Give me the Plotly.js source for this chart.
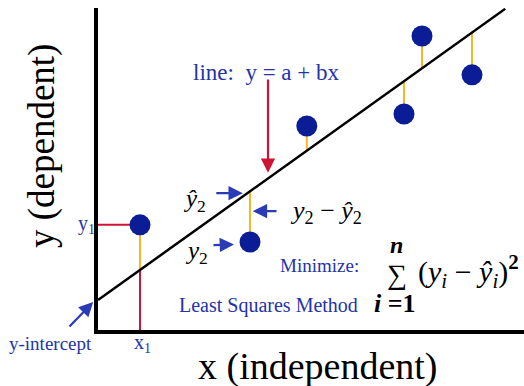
<!DOCTYPE html>
<html>
<head>
<meta charset="utf-8">
<script src="https://cdn.plot.ly/plotly-3.0.1.min.js"></script>
<style>
  html, body { margin: 0; padding: 0; background: #fff; }
  #chart { width: 524px; height: 386px; }
</style>
</head>
<body>
<div id="chart"></div>
<script>
// ---- data (axis units, origin at the axes corner) ----
const pointX = [1.05, 3.8, 5.22, 7.65, 8.1, 9.35];
const pointY = [2.63, 2.2, 5.1, 5.4, 7.35, 6.38];
const intercept = 0.75;   // a
const slope = 0.715;      // b
const lineX = [0, 10.18];

const X_MAX = 10.65, Y_MAX = 8.05;
const PX_PER_UNIT = 40;   // plot area is 426 x 322 px

const BLUE_TEXT = '#2433a8';
const BLUE_DOT = '#0b1d96';
const BLUE_ARROW = '#2a3bb5';
const RED = '#cc1436';
const GOLD = '#f5b72a';
const SERIF = 'Liberation Serif, Times New Roman, serif';

function fitted(x) { return intercept + slope * x; }

// residual segments (point -> fitted line)
const resX = [], resY = [];
pointX.forEach((x, i) => {
    resX.push(x, x, null);
    resY.push(pointY[i], fitted(x), null);
});

// guide lines for the first point (x1, y1)
const x1 = pointX[0], y1 = pointY[0];

const traces = [
    {
        x: [0, x1, null, x1, x1],
        y: [y1, y1, null, fitted(x1), 0],
        mode: 'lines',
        line: { color: RED, width: 2 },
        hoverinfo: 'skip'
    },
    {
        x: resX,
        y: resY,
        mode: 'lines',
        line: { color: GOLD, width: 2 },
        hoverinfo: 'skip'
    },
    {
        x: lineX,
        y: lineX.map(fitted),
        mode: 'lines',
        line: { color: '#000', width: 2.5 },
        hoverinfo: 'skip'
    },
    {
        x: pointX,
        y: pointY,
        mode: 'markers',
        marker: { color: BLUE_DOT, size: 21 },
        hoverinfo: 'skip'
    }
];

// annotations use paper refs so the ones outside the axes still show
function label(x, y, text, size, color, extra) {
    return Object.assign({
        x: x / X_MAX, y: y / Y_MAX, xref: 'paper', yref: 'paper',
        xanchor: 'center', yanchor: 'middle',
        text: text, showarrow: false,
        font: { family: SERIF, size: size, color: color }
    }, extra || {});
}

function arrow(tailX, tailY, tipX, tipY, color) {
    return {
        x: tipX / X_MAX, y: tipY / Y_MAX, xref: 'paper', yref: 'paper',
        ax: (tailX - tipX) * PX_PER_UNIT, ay: -(tailY - tipY) * PX_PER_UNIT,
        text: '', showarrow: true,
        arrowhead: 2, arrowsize: 1.3, arrowwidth: 2.2,
        arrowcolor: color, standoff: 0, startstandoff: 0
    };
}

const annotations = [
    // axis titles
    label(5.5, -0.92, 'x (independent)', 38, '#000'),
    label(-1.4, 4.6, 'y (dependent)', 37, '#000', { textangle: -90 }),

    // line equation + pointer
    label(4.2, 6.45, 'line:  y = a + bx', 23, BLUE_TEXT),
    arrow(4.25, 6.3, 4.25, 3.93, RED),

    // y-hat 2, y2 and residual labels
    label(2.4, 3.25, '<i>ŷ</i><sub>2</sub>', 25, '#000'),
    arrow(2.92, 3.42, 3.62, 3.42, BLUE_ARROW),
    label(2.45, 1.95, '<i>y</i><sub>2</sub>', 25, '#000'),
    arrow(2.85, 2.12, 3.4, 2.14, BLUE_ARROW),
    label(5.7, 2.95, '<i>y</i><sub>2</sub> − <i>ŷ</i><sub>2</sub>', 26, '#000'),
    arrow(4.5, 2.97, 3.87, 2.97, BLUE_ARROW),

    // x1 / y1 / intercept
    label(-0.3, y1, 'y<sub>1</sub>', 20, BLUE_TEXT),
    label(x1 + 0.07, -0.33, 'x<sub>1</sub>', 20, BLUE_TEXT),
    label(-1.2, -0.33, 'y-intercept', 19, BLUE_TEXT),
    arrow(-0.75, 0.05, -0.12, intercept - 0.05, BLUE_ARROW),

    // least squares formula
    label(5.525, 1.625, 'Minimize:', 19, BLUE_TEXT),
    label(4.25, 0.625, 'Least Squares Method', 20, BLUE_TEXT),
    label(7.45, 2.12, '<b><i>n</i></b>', 24, '#000'),
    label(7.48, 1.4, '∑', 28, '#000'),
    label(7.95, 1.47, '(<i>y</i><sub><i>i</i></sub> − <i>ŷ</i><sub><i>i</i></sub>)<sup><b>2</b></sup>', 30, '#000', { xanchor: 'left' }),
    label(7.43, 0.67, '<b><i>i</i> =1</b>', 26, '#000')
];

const layout = {
    width: 524,
    height: 386,
    margin: { l: 98, r: 0, t: 8, b: 56 },
    paper_bgcolor: '#fff',
    plot_bgcolor: '#fff',
    showlegend: false,
    xaxis: {
        range: [0, X_MAX], showgrid: false, zeroline: false,
        showticklabels: false, ticks: '',
        showline: true, linecolor: '#000', linewidth: 4
    },
    yaxis: {
        range: [0, Y_MAX], showgrid: false, zeroline: false,
        showticklabels: false, ticks: '',
        showline: true, linecolor: '#000', linewidth: 4
    },
    annotations: annotations
};

Plotly.newPlot('chart', traces, layout, { staticPlot: true, displayModeBar: false });
</script>
</body>
</html>
